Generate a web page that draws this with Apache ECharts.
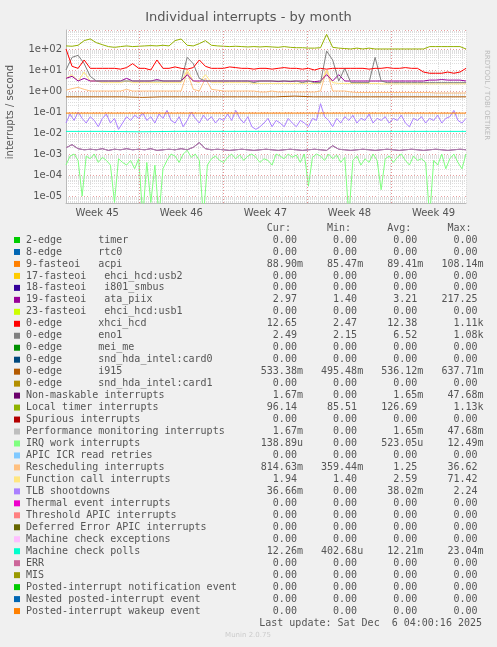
<!DOCTYPE html>
<html>
<head>
<meta charset="utf-8">
<script src="https://cdn.jsdelivr.net/npm/echarts@6/dist/echarts.min.js"></script>
<style>html,body{margin:0;padding:0;background:#f0f0f0}#c{width:497px;height:647px}</style>
</head>
<body>
<div id="c"></div>
<script>
// x axis is days since the left edge of the graph
var xMax = 33.3
var weekLabels = ['Week 45', 'Week 46', 'Week 47', 'Week 48', 'Week 49']
var weekCenters = [2.6, 9.6, 16.6, 23.6, 30.6]
var weekBounds = [6.1, 13.1, 20.1, 27.1]

var localTimer = [140,135,150,250,300,200,160,130,120,130,140,130,135,140,145,140,150,140,250,300,150,140,180,250,150,140,135,130,135,130,125,130,125,130,125,120,130,120,115,115,110,110,115,500,120,110,105,100,110,100,110,100,100,100,100,100,100,100,100,100,130,130,130,130,130,130,100]
var xhci = [100,15,12,30,12,12,12,12,12,11,13,20,12,12,10,30,12,12,14,12,11,13,30,15,12,12,12,14,13,12,12,11,12,12,11,12,13,12,12,11,12,10,12,11,12,12,12,12,12,12,11,12,12,13,12,12,13,12,12,8,7,7,7,8,7,8,12]
var eno1 = [10,40,50,20,5,3,3,3,3,3,3,3,3,3,3,3,3,3,3,3,40,20,4,3,3,3,3,3,3,3,3,2.5,3,3,3,3,3,3,3,2.5,3,2.5,2.5,80,30,3,12,2.5,2.5,2.5,2.5,40,3,2.5,2.5,2.5,2.5,2.5,2.5,2.5,2.5,2.5,2.5,2.5,2.5,2.5,2.5]
var ataPiix = [4,5,3,4,3,3,3,3,3,3,4,3,3,3,3,3.5,3,3,3,3,6,3,3,3,3,3,3,3,3,3,3,3,3,3,3,2.8,3,2.8,3,3,3,2.8,3,6,3,6,3,3,3,3,3,3,3,3,3,3,3,3,3,3,3.3,3.3,3.5,3.3,3.3,3.3,3]
var funcCall = [4,6,3,8,3,3,2.5,2.5,2.5,2.5,3,2.5,2.5,2.5,2.5,2.5,2.5,2.5,2.5,2.5,10,3,2.5,6,2.5,2.5,2.5,2.5,2.5,2.5,2.5,2.3,2.3,2.3,2.3,2.3,2.3,2.3,2.3,2.3,2.3,2.3,2.3,10,2.5,2.3,2.3,2.3,2.3,2.3,2.3,2.3,2.2,2.2,2.2,2.2,2.2,2.2,2.2,2.2,2.2,2.2,2.2,2.2,2.2,2.2,2.2]
var resched = [1.1,1.3,1.5,1.2,1,1,1,1,1,1,1.2,1,1,1,1,1,1,1,1,1,8,1.2,1,4,1.2,1.1,1,1,1,1,1,1,0.9,0.9,1,0.9,0.9,0.9,0.9,0.9,0.9,0.9,1,10,1,1,1,0.9,0.85,0.85,0.85,0.85,0.85,0.85,0.85,0.85,0.85,0.85,0.85,0.85,0.85,0.8,0.8,0.8,0.8,0.8,0.8]
var i915 = [0.53,0.53,0.53,0.53,0.5,0.53,0.53,0.53,0.53,0.53,0.53,0.53,0.57,0.53,0.53,0.53,0.53,0.53,0.53,0.53,0.53,0.53]
var acpi = [0.089,0.089,0.089,0.089,0.089,0.089,0.089,0.089]
var mcePolls = [0.012,0.012,0.0115,0.012,0.012,0.012,0.012,0.012,0.012,0.012,0.012,0.012]
var nmi = [0.002,0.0028,0.0018,0.0016,0.0017,0.0016,0.0018,0.0015,0.0017,0.0016,0.0018,0.0016,0.0017,0.0016,0.0018,0.0015,0.0016,0.0017,0.0016,0.0018,0.0016,0.0021,0.0035,0.0018,0.0016,0.0017,0.0016,0.0015,0.0016,0.0017,0.0016,0.0015,0.0016,0.0017,0.0016,0.0015,0.0016,0.0017,0.0016,0.0015,0.0016,0.0017,0.0016,0.0015,0.0025,0.0017,0.0016,0.0015,0.0016,0.0017,0.0016,0.0015,0.0016,0.0017,0.0016,0.0015,0.0016,0.0017,0.0016,0.0015,0.0016,0.0017,0.0016,0.0015,0.0016,0.0017,0.0016]
var irqWork = [3e-4,8e-4,1e-3,5e-4,1e-5,8e-4,6e-4,1e-3,4e-4,7e-4,5e-4,3e-4,5e-6,6e-4,4e-4,3e-4,5e-4,2e-4,6e-4,1e-6,4e-4,5e-6,3e-4,1e-6,2e-4,5e-4,1e-3,8e-4,4e-4,1e-3,1.5e-3,7e-4,1e-3,5e-4,1e-6,3e-4,6e-4,8e-4,5e-4,4e-4,7e-4,1e-3,6e-4,9e-4,5e-4,8e-4,1e-3,7e-4,4e-4,6e-4,5e-4,3e-4,1e-3,8e-4,6e-4,1e-3,7e-4,9e-4,4e-4,1e-3,3e-5,7e-4,1e-3,8e-4,5e-4,1e-3,6e-4,9e-4,4e-4,7e-4,1e-6,5e-4,8e-4,3e-4,6e-4,4e-4,1e-3,5e-4,2e-5,6e-4,8e-4,4e-4,7e-4,1e-3,5e-4,3e-4,8e-4,5e-4,6e-4,4e-4,1e-6,5e-4,3e-4,1e-3,2e-4,6e-4,1e-3,4e-4,2e-4,1e-3]
var tlb = [0.03,0.08,0.04,0.1,0.05,0.03,0.06,0.04,0.02,0.05,0.08,0.03,0.05,0.015,0.03,0.06,0.04,0.07,0.05,0.09,0.04,0.06,0.03,0.08,0.05,0.12,0.04,0.03,0.06,0.02,0.04,0.1,0.05,0.03,0.07,0.04,0.06,0.03,0.05,0.04,0.08,0.04,0.12,0.05,0.03,0.06,0.02,0.015,0.02,0.03,0.05,0.02,0.04,0.03,0.02,0.05,0.03,0.02,0.04,0.03,0.02,0.05,0.04,0.25,0.06,0.04,0.02,0.05,0.03,0.06,0.04,0.07,0.03,0.05,0.04,0.08,0.03,0.05,0.04,0.06,0.03,0.05,0.04,0.07,0.03,0.02,0.05,0.04,0.06,0.03,0.05,0.04,0.07,0.03,0.05,0.06,0.12,0.04,0.03,0.05]

var legendRows = [
  ['2-edge      timer', '#00cc00', '0.00', '0.00', '0.00', '0.00'],
  ['8-edge      rtc0', '#0066b3', '0.00', '0.00', '0.00', '0.00'],
  ['9-fasteoi   acpi', '#ff8000', '88.90m', '85.47m', '89.41m', '108.14m'],
  ['17-fasteoi   ehci_hcd:usb2', '#ffcc00', '0.00', '0.00', '0.00', '0.00'],
  ['18-fasteoi   i801_smbus', '#330099', '0.00', '0.00', '0.00', '0.00'],
  ['19-fasteoi   ata_piix', '#990099', '2.97', '1.40', '3.21', '217.25'],
  ['23-fasteoi   ehci_hcd:usb1', '#ccff00', '0.00', '0.00', '0.00', '0.00'],
  ['0-edge      xhci_hcd', '#ff0000', '12.65', '2.47', '12.38', '1.11k'],
  ['0-edge      eno1', '#808080', '2.49', '2.15', '6.52', '1.08k'],
  ['0-edge      mei_me', '#008f00', '0.00', '0.00', '0.00', '0.00'],
  ['0-edge      snd_hda_intel:card0', '#00487d', '0.00', '0.00', '0.00', '0.00'],
  ['0-edge      i915', '#b35a00', '533.38m', '495.48m', '536.12m', '637.71m'],
  ['0-edge      snd_hda_intel:card1', '#b38f00', '0.00', '0.00', '0.00', '0.00'],
  ['Non-maskable interrupts', '#6b006b', '1.67m', '0.00', '1.65m', '47.68m'],
  ['Local timer interrupts', '#8fb300', '96.14', '85.51', '126.69', '1.13k'],
  ['Spurious interrupts', '#b30000', '0.00', '0.00', '0.00', '0.00'],
  ['Performance monitoring interrupts', '#bebebe', '1.67m', '0.00', '1.65m', '47.68m'],
  ['IRQ work interrupts', '#80ff80', '138.89u', '0.00', '523.05u', '12.49m'],
  ['APIC ICR read retries', '#80c9ff', '0.00', '0.00', '0.00', '0.00'],
  ['Rescheduling interrupts', '#ffc080', '814.63m', '359.44m', '1.25', '36.62'],
  ['Function call interrupts', '#ffe680', '1.94', '1.40', '2.59', '71.42'],
  ['TLB shootdowns', '#aa80ff', '36.66m', '0.00', '38.02m', '2.24'],
  ['Thermal event interrupts', '#ee00cc', '0.00', '0.00', '0.00', '0.00'],
  ['Threshold APIC interrupts', '#ff8080', '0.00', '0.00', '0.00', '0.00'],
  ['Deferred Error APIC interrupts', '#666600', '0.00', '0.00', '0.00', '0.00'],
  ['Machine check exceptions', '#ffbfff', '0.00', '0.00', '0.00', '0.00'],
  ['Machine check polls', '#00ffcc', '12.26m', '402.68u', '12.21m', '23.04m'],
  ['ERR', '#cc6699', '0.00', '0.00', '0.00', '0.00'],
  ['MIS', '#999900', '0.00', '0.00', '0.00', '0.00'],
  ['Posted-interrupt notification event', '#00cc00', '0.00', '0.00', '0.00', '0.00'],
  ['Nested posted-interrupt event', '#0066b3', '0.00', '0.00', '0.00', '0.00'],
  ['Posted-interrupt wakeup event', '#ff8000', '0.00', '0.00', '0.00', '0.00']
]

var chart = echarts.init(document.getElementById('c'))

function pts(arr) {
  var step = xMax / (arr.length - 1)
  return arr.map(function (v, i) { return [i * step, v] })
}
function line(name, arr, color) {
  return { name: name, type: 'line', data: pts(arr), symbol: 'none', animation: false,
    lineStyle: { color: color, width: 1 }, itemStyle: { color: color } }
}

function field(v) {
  var last = v.slice(-1)
  var num = /[kmu]/.test(last) ? v.slice(0, -1) : v
  var suf = num === v ? ' ' : last
  return num.padStart(9) + suf
}

var mono = 'DejaVu Sans Mono'
var graphics = []
graphics.push({ type: 'text', left: 'center', top: 11, style: { text: 'Individual interrupts - by month', fill: '#555', font: '13px DejaVu Sans' } })
graphics.push({ type: 'text', x: 5, y: 168, rotation: Math.PI / 2, style: { text: 'interrupts / second', fill: '#555', font: '10px DejaVu Sans', textAlign: 'center', textVerticalAlign: 'middle' } , x: 10, y: 112 })
graphics.push({ type: 'text', x: 487, y: 50, rotation: -Math.PI / 2, style: { text: 'RRDTOOL / TOBI OETIKER', fill: '#bbb', font: '7px DejaVu Sans', textAlign: 'left', textVerticalAlign: 'middle' } })
graphics.push({ type: 'text', x: 26, y: 228, style: { text: ' '.repeat(40) + 'Cur:      Min:      Avg:      Max:', fill: '#555', font: '10px ' + mono, textVerticalAlign: 'middle' } })
legendRows.forEach(function (r, i) {
  var y = 240 + i * 11.97
  graphics.push({ type: 'rect', shape: { x: 14, y: y - 3, width: 6, height: 6 }, style: { fill: r[1] } })
  var s = r[0].padEnd(36) + field(r[2]) + field(r[3]) + field(r[4]) + field(r[5])
  graphics.push({ type: 'text', x: 26, y: y, style: { text: s, fill: '#555', font: '10px ' + mono, textVerticalAlign: 'middle' } })
})
graphics.push({ type: 'text', x: 482, y: 623, style: { text: 'Last update: Sat Dec  6 04:00:16 2025', fill: '#555', font: '10px ' + mono, textAlign: 'right', textVerticalAlign: 'middle' } })
graphics.push({ type: 'text', x: 248, y: 635, style: { text: 'Munin 2.0.75', fill: '#ccc', font: '7px DejaVu Sans', textAlign: 'center', textVerticalAlign: 'middle' } })

function expLabel(v) {
  var e = Math.round(Math.log10(v))
  var s = Math.abs(e) < 10 ? '0' + Math.abs(e) : '' + Math.abs(e)
  return '1e' + (e < 0 ? '-' : '+') + s
}

var series = [
  line('Non-maskable interrupts', nmi, '#6b006b'),
  line('Performance monitoring interrupts', nmi, 'rgba(190,160,190,0.8)'),
  line('IRQ work interrupts', irqWork, '#80ff80'),
  line('Machine check polls', mcePolls, '#00ffcc'),
  line('TLB shootdowns', tlb, '#aa80ff'),
  line('9-fasteoi acpi', acpi, '#ff8000'),
  line('0-edge i915', i915, '#b35a00'),
  line('Rescheduling interrupts', resched, '#ffc080'),
  line('Function call interrupts', funcCall, '#ffe680'),
  line('19-fasteoi ata_piix', ataPiix, '#990099'),
  line('0-edge eno1', eno1, '#808080'),
  line('0-edge xhci_hcd', xhci, '#ff0000'),
  line('Local timer interrupts', localTimer, '#94b000')
]
series[0].markLine = { silent: true, symbol: 'none', label: { show: false }, animation: false,
  lineStyle: { color: '#e89090', type: [1, 2], width: 1 },
  data: weekBounds.map(function (d) { return { xAxis: d } }) }

chart.setOption({
  backgroundColor: '#f0f0f0',
  animation: false,
  graphic: graphics,
  grid: { left: 66, right: 31, top: 30, bottom: 444, backgroundColor: '#fff', show: true, borderWidth: 0 },
  xAxis: {
    type: 'value', min: 0, max: xMax, interval: 1,
    axisLine: { lineStyle: { color: '#bbb' } },
    axisTick: { show: false },
    axisLabel: { customValues: weekCenters, formatter: function (v) {
      var i = weekCenters.findIndex(function (c) { return Math.abs(c - v) < 0.01 })
      return i >= 0 ? weekLabels[i] : ''
    }, color: '#555', fontSize: 10, fontFamily: 'DejaVu Sans', margin: 5 },
    splitLine: { show: true, lineStyle: { color: '#ddd', type: [1, 1] } }
  },
  yAxis: {
    type: 'log', logBase: 10, min: 4.7e-6, max: 800,
    axisLine: { show: true, lineStyle: { color: '#bbb' } },
    axisTick: { show: false },
    axisLabel: { formatter: expLabel, color: '#555', fontSize: 10, fontFamily: 'DejaVu Sans', margin: 4, showMinLabel: false, showMaxLabel: false },
    splitLine: { show: true, lineStyle: { color: '#e8a0a0', type: [1, 2] } },
    minorTick: { show: false, splitNumber: 9 },
    minorSplitLine: { show: true, lineStyle: { color: '#ddd', type: [1, 1] } }
  },
  series: series
})
</script>
</body>
</html>
